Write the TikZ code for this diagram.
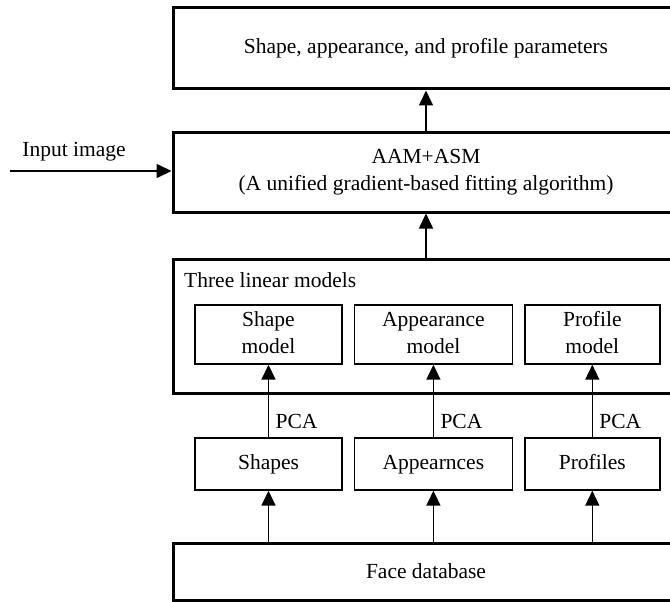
\documentclass[tikz,border=0pt]{standalone}
\usepackage{fontspec}
\setmainfont{Liberation Serif}
\usetikzlibrary{arrows.meta,positioning}

\tikzset{
    bigbox/.style={draw, line width=3pt, minimum width=506pt, align=center, inner sep=0pt},
    smallbox/.style={draw, line width=1.4pt, align=center, inner sep=0pt},
    databox/.style={smallbox, text height=15pt, text depth=4pt},
    flow/.style={->, line width=1.6pt},
}

\begin{document}
\begin{tikzpicture}[x=1pt, y=-1pt, >={Triangle[length=15pt,width=14pt]},
    font=\fontsize{21.5}{27}\selectfont, node distance=11pt]
    \clip (0,0) rectangle (670,602);

    % Big boxes
    \node [bigbox, minimum height=81pt]   (params) at (426,48.5)  {Shape, appearance, and profile parameters};
    \node [bigbox, minimum height=80pt]   (aam)    at (426,172)   {AAM+ASM\\(A unified gradient-based fitting algorithm)};
    \node [bigbox, minimum height=134pt]  (three)  at (426,326)   {};
    \node [bigbox, minimum height=57pt]   (face)   at (426,571.5) {Face database};
    \node [anchor=west, inner sep=0pt]    (threelbl) at (184,280) {Three linear models};

    % Models
    \node [smallbox, minimum width=147pt, minimum height=59pt] (shapem) at (268.5,334.5) {\strut Shape\\\strut model};
    \node [smallbox, minimum width=158pt, minimum height=59pt] (appm)   [right=of shapem] {\strut Appearance\\\strut model};
    \node [smallbox, minimum width=135pt, minimum height=59pt] (profm)  [right=of appm]   {\strut Profile\\\strut model};

    % Data
    \node [databox, minimum width=147pt, minimum height=52pt] (shapes) at (268.5,464) {Shapes};
    \node [databox, minimum width=158pt, minimum height=52pt] (apps)   [right=of shapes] {Appearnces};
    \node [databox, minimum width=135pt, minimum height=52pt] (profs)  [right=of apps]   {Profiles};

    % Input
    \coordinate (inp) at (10,171);
    \node [inner sep=0pt] (inplbl) at (74,152) {Input image};

    % Paths
    \draw [flow] (aam.north)   -- (params.south);
    \draw [flow] (three.north) -- (aam.south);
    \draw [flow] (inp) -- (inp -| aam.west);
    \draw [flow] (shapes) -- node [pos=0.22, right=3pt] {PCA} (shapem);
    \draw [flow] (apps)   -- node [pos=0.22, right=3pt] {PCA} (appm);
    \draw [flow] (profs)  -- node [pos=0.22, right=3pt] {PCA} (profm);
    \draw [flow] (face.north -| shapes) -- (shapes);
    \draw [flow] (face.north -| apps)   -- (apps);
    \draw [flow] (face.north -| profs)  -- (profs);
\end{tikzpicture}
\end{document}
